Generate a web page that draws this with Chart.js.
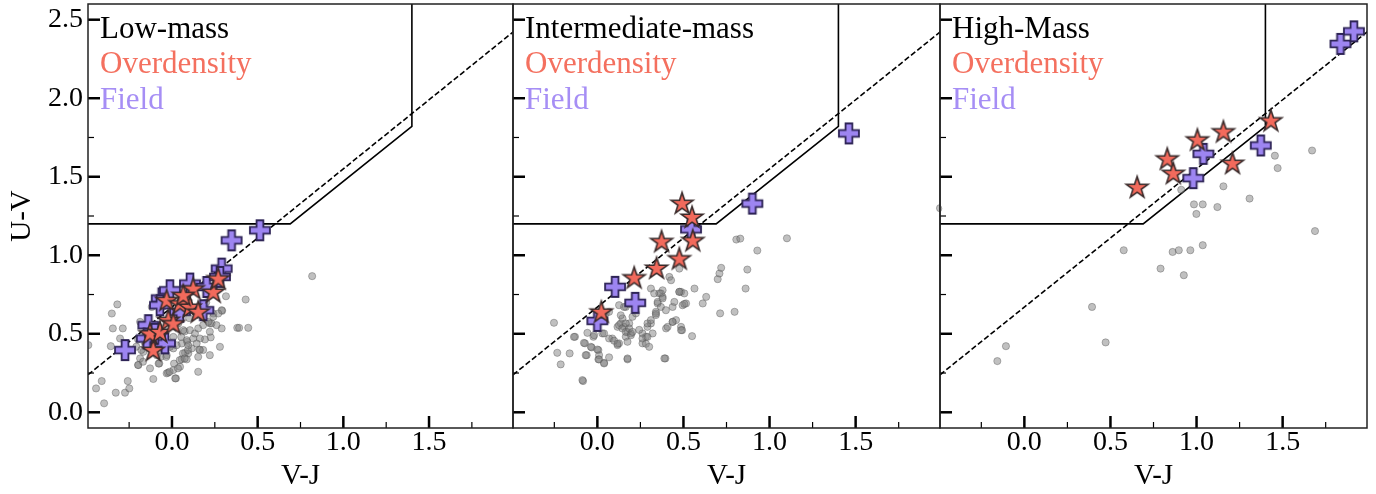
<!DOCTYPE html>
<html>
<head>
<meta charset="utf-8">
<script src="https://cdn.jsdelivr.net/npm/chart.js@4.4.0/dist/chart.umd.min.js"></script>
<style>
  html, body { margin: 0; padding: 0; background: #fff; }
  #wrap { position: relative; width: 1376px; height: 494px; overflow: hidden; }
  .pane { position: absolute; top: 0; height: 494px; }
</style>
</head>
<body>
<div id="wrap">
  <div class="pane" style="left:0px;width:520px"><canvas id="c1" width="520" height="494"></canvas></div>
  <div class="pane" style="left:506px;width:441px"><canvas id="c2" width="441" height="494"></canvas></div>
  <div class="pane" style="left:933px;width:443px"><canvas id="c3" width="443" height="494"></canvas></div>
</div>
<script>
// axis ranges and ticks
var vjMin = -0.49, vjMax = 1.99, uvMin = -0.1, uvMax = 2.6;
var vjTicks = [0, 0.5, 1.0, 1.5];
var vjMinor = [-0.25, 0.25, 0.75, 1.25, 1.75];
var uvTicks = [0, 0.5, 1.0, 1.5, 2.0, 2.5];
var uvMinor = [0.25, 0.75, 1.25, 1.75];

// UVJ quiescent box and dividing line
var boxVJ = [-0.6, 0.69, 1.4, 1.4];
var boxUV = [1.2, 1.2, 1.82, 2.8];
var divVJ = [-0.6, 2.1];
var divUV = [0.142, 2.518];

var panelNames = ['Low-mass', 'Intermediate-mass', 'High-Mass'];
var groupNames = ['Overdensity', 'Field'];

// low-mass
var lowOverVJ = [-0.109, -0.128, -0.07, -0.021, 0.008, -0.031, 0.047, 0.105, 0.124, 0.153, 0.241, 0.27, 0.066];
var lowOverUV = [0.396, 0.502, 0.512, 0.587, 0.566, 0.714, 0.693, 0.671, 0.788, 0.64, 0.767, 0.852, 0.746];
var lowFieldVJ = [-0.274, -0.138, -0.147, -0.041, -0.06, -0.012, -0.07, 0.047, 0.105, 0.202, 0.183, 0.29, 0.28, 0.348, 0.513, -0.1];
var lowFieldUV = [0.396, 0.555, 0.47, 0.439, 0.725, 0.777, 0.682, 0.64, 0.82, 0.798, 0.65, 0.915, 0.862, 1.095, 1.159, 0.5];
var lowAllVJ = [-0.319, -0.351, -0.345, -0.287, -0.357, -0.488, -0.41, -0.443, -0.396, -0.328, -0.274, -0.258, -0.249, -0.303, -0.196,
  -0.109, -0.128, -0.074, -0.031, 0.023, 0.008, 0.047, 0.057, 0.086, 0.095, 0.076, 0.115, 0.159, 0.153, 0.153, 0.221, 0.28, 0.29,
  0.226, 0.293, 0.315, 0.43, 0.381, 0.392, 0.445, 0.818, 0.241, 0.221, -0.031, 0.008, -0.167, -0.157, -0.186, -0.118, -0.186,
  -0.198, -0.208, -0.179, -0.198, -0.169, -0.078, -0.066, -0.033, -0.023, -0.014, 0.012, 0.019, 0.035, 0.045, 0.064, 0.074, 0.093,
  0.089, 0.074, 0.054, 0.231, 0.29, 0.192, 0.163, 0.124, 0.086, 0.057, 0.027, -0.012, -0.05, -0.089, 0.066, 0.105, 0.134, 0.153,
  0.182, 0.212, 0.241, 0.27, 0.037, 0.008, 0.144, 0.182, 0.221, 0.26, 0.095, 0.163, 0.0, 0.1, -0.05, 0.2, -0.08, -0.13];
var lowAllUV = [0.687, 0.629, 0.534, 0.534, 0.421, 0.428, 0.199, 0.152, 0.057, 0.125, 0.125, 0.199, 0.152, 0.47, 0.301,
  0.212, 0.28, 0.311, 0.248, 0.216, 0.269, 0.29, 0.337, 0.337, 0.375, 0.379, 0.407, 0.4, 0.353, 0.258, 0.364, 0.417, 0.534,
  0.477, 0.646, 0.739, 0.718, 0.538, 0.538, 0.538, 0.867, 0.629, 0.566, 0.364, 0.407, 0.385, 0.439, 0.576, 0.671, 0.343,
  0.464, 0.418, 0.397, 0.301, 0.322, 0.31, 0.353, 0.353, 0.252, 0.258, 0.31, 0.216, 0.28, 0.332, 0.375, 0.343, 0.397,
  0.448, 0.515, 0.48, 0.566, 0.65, 0.464, 0.47, 0.47, 0.459, 0.438, 0.427, 0.417, 0.397, 0.364, 0.523, 0.523, 0.502, 0.534,
  0.555, 0.576, 0.608, 0.629, 0.566, 0.48, 0.438, 0.397, 0.513, 0.555, 0.427, 0.397, 0.55, 0.6, 0.5, 0.7, 0.45, 0.42];

// intermediate-mass
var midOverVJ = [0.492, 0.55, 0.554, 0.373, 0.476, 0.344, 0.214, 0.023];
var midOverUV = [1.332, 1.244, 1.095, 1.089, 0.979, 0.919, 0.858, 0.64];
var midFieldVJ = [0.9, 0.544, 0.103, 0.22, 0.0, 1.461];
var midFieldUV = [1.329, 1.165, 0.799, 0.697, 0.582, 1.776];
var midAllVJ = [-0.252, -0.233, -0.213, -0.161, -0.13, -0.083, -0.072, -0.062, -0.058, -0.033, -0.023, 0.006, 0.006, 0.01, 0.039,
  0.029, 0.068, 0.049, 0.068, 0.087, 0.117, 0.126, 0.117, 0.136, 0.146, 0.165, 0.126, 0.156, 0.175, 0.195, 0.185, 0.165, 0.175,
  0.204, 0.224, 0.262, 0.282, 0.262, 0.291, 0.311, 0.321, 0.311, 0.33, 0.379, 0.36, 0.379, 0.35, 0.369, 0.34, 0.34, 0.399, 0.418,
  0.428, 0.437, 0.437, 0.457, 0.476, 0.486, 0.505, 0.495, 0.515, 0.486, 0.492, 0.55, 0.564, 0.632, 0.612, 0.699, 0.709, 0.719,
  0.713, 0.797, 0.807, 0.83, 0.861, 0.871, 0.929, 1.101, 0.395, 0.175, -0.136, -0.078, -0.038, -0.068, 0.0, 0.01, 0.039, -0.019,
  0.039, 0.068, 0.097, 0.117, 0.136, 0.155, 0.185, 0.126, 0.145, 0.165, 0.165, 0.185, 0.195, 0.204, 0.175, 0.243, 0.262, 0.291,
  0.282, 0.301, 0.291, 0.311, 0.34, 0.369, 0.35, 0.379, 0.398, 0.408, 0.437, 0.447, 0.476, 0.486, 0.505, 0.389, -0.087, 0.476, 1.99];
var midAllUV = [0.57, 0.379, 0.305, 0.375, 0.481, 0.199, 0.439, 0.364, 0.506, 0.413, 0.481, 0.396, 0.337, 0.364, 0.315,
  0.502, 0.35, 0.629, 0.64, 0.47, 0.428, 0.439, 0.544, 0.566, 0.598, 0.671, 0.682, 0.544, 0.512, 0.502, 0.566, 0.481, 0.449,
  0.608, 0.63, 0.502, 0.481, 0.439, 0.544, 0.566, 0.502, 0.788, 0.757, 0.777, 0.757, 0.735, 0.693, 0.671, 0.64, 0.619, 0.534, 0.862,
  0.841, 0.671, 0.576, 0.587, 0.767, 0.767, 0.757, 0.682, 0.693, 0.544, 0.523, 0.485, 0.788, 0.735, 0.693, 0.848, 0.884, 0.92,
  0.63, 0.64, 1.1, 1.106, 0.788, 0.909, 1.03, 1.108, 0.343, 0.337, 0.48, 0.442, 0.417, 0.364, 0.4, 0.337, 0.311, 0.491,
  0.502, 0.47, 0.456, 0.436, 0.618, 0.671, 0.69, 0.555, 0.534, 0.566, 0.512, 0.534, 0.491, 0.512, 0.343, 0.525, 0.47, 0.48,
  0.436, 0.417, 0.566, 0.587, 0.629, 0.757, 0.703, 0.725, 0.65, 0.544, 0.576, 0.703, 0.767, 0.523, 0.69, 0.343, 0.205, 0.915, 1.30];

// high-mass
var highOverVJ = [0.655, 0.83, 0.865, 1.005, 1.156, 1.209, 1.432];
var highOverUV = [1.434, 1.615, 1.523, 1.736, 1.788, 1.587, 1.858];
var highFieldVJ = [0.981, 1.04, 1.373, 1.836, 1.914];
var highFieldUV = [1.491, 1.646, 1.699, 2.346, 2.426];
var highAllVJ = [-0.5, -0.157, -0.107, 0.393, 0.472, 0.577, 0.791, 0.861, 0.897, 0.911, 0.926, 0.964, 0.985, 0.999, 1.036, 1.036,
  1.121, 1.156, 1.308, 1.455, 1.471, 1.671, 1.688];
var highAllUV = [1.297, 0.326, 0.421, 0.671, 0.445, 1.032, 0.915, 1.021, 1.032, 1.417, 0.873, 1.032, 1.324, 1.263, 1.324, 1.064,
  1.307, 1.439, 1.361, 1.634, 1.555, 1.667, 1.154];

var serif = '"Liberation Serif", "Times New Roman", serif';

function pts(xs, ys) {
  return xs.map(function (x, i) { return { x: x, y: ys[i] }; });
}

function makeStar() {
  var c = document.createElement('canvas');
  c.width = 28; c.height = 28;
  var g = c.getContext('2d');
  g.beginPath();
  for (var i = 0; i < 10; i++) {
    var r = i % 2 ? 4.4 : 11.4;
    var a = -Math.PI / 2 + i * Math.PI / 5;
    g.lineTo(14 + r * Math.cos(a), 14.8 + r * Math.sin(a));
  }
  g.closePath();
  g.fillStyle = '#f26a5c';
  g.fill();
  g.lineWidth = 1.6;
  g.strokeStyle = '#3a2b2b';
  g.stroke();
  return c;
}

function makePlus() {
  var c = document.createElement('canvas');
  c.width = 26; c.height = 26;
  var g = c.getContext('2d');
  var m = 13, h = 10, w = 3.4;
  g.beginPath();
  g.moveTo(m - w, m - h); g.lineTo(m + w, m - h); g.lineTo(m + w, m - w); g.lineTo(m + h, m - w);
  g.lineTo(m + h, m + w); g.lineTo(m + w, m + w); g.lineTo(m + w, m + h); g.lineTo(m - w, m + h);
  g.lineTo(m - w, m + w); g.lineTo(m - h, m + w); g.lineTo(m - h, m - w); g.lineTo(m - w, m - w);
  g.closePath();
  g.fillStyle = '#9d85f1';
  g.fill();
  g.lineWidth = 1.8;
  g.strokeStyle = '#2e2456';
  g.stroke();
  return c;
}

var starImg = makeStar();
var plusImg = makePlus();

// frame, inward ticks and the three-line label in each panel
var framePlugin = {
  id: 'frame',
  afterDatasetsDraw: function (chart, args, opts) {
    var a = chart.chartArea, g = chart.ctx;
    var xs = chart.scales.x, ys = chart.scales.y;
    g.save();
    g.strokeStyle = '#000';
    g.lineWidth = 2.5;
    vjTicks.forEach(function (v) {
      var p = xs.getPixelForValue(v);
      g.beginPath(); g.moveTo(p, a.bottom); g.lineTo(p, a.bottom - 12); g.stroke();
    });
    uvTicks.forEach(function (v) {
      var p = ys.getPixelForValue(v);
      g.beginPath(); g.moveTo(a.left, p); g.lineTo(a.left + 12, p); g.stroke();
    });
    g.lineWidth = 1.2;
    vjMinor.forEach(function (v) {
      var p = xs.getPixelForValue(v);
      g.beginPath(); g.moveTo(p, a.bottom); g.lineTo(p, a.bottom - 6); g.stroke();
    });
    uvMinor.forEach(function (v) {
      var p = ys.getPixelForValue(v);
      g.beginPath(); g.moveTo(a.left, p); g.lineTo(a.left + 6, p); g.stroke();
    });
    g.strokeStyle = '#222';
    g.lineWidth = 1.5;
    g.strokeRect(a.left, a.top, a.right - a.left, a.bottom - a.top);

    g.font = '31px ' + serif;
    g.textBaseline = 'alphabetic';
    g.textAlign = 'left';
    g.fillStyle = '#000';
    g.fillText(opts.name, a.left + 12, a.top + 34);
    g.fillStyle = '#f4705f';
    g.fillText(groupNames[0], a.left + 12, a.top + 69);
    g.fillStyle = '#a68ef5';
    g.fillText(groupNames[1], a.left + 12, a.top + 105);
    g.restore();
  }
};

function fmt(v) { return Number(v).toFixed(1); }

function makePanel(id, name, overVJ, overUV, fieldVJ, fieldUV, allVJ, allUV, first, pad) {
  return new Chart(document.getElementById(id), {
    type: 'scatter',
    data: {
      datasets: [
        { label: groupNames[0], data: pts(overVJ, overUV), pointStyle: starImg, pointRadius: 11, clip: 0 },
        { label: groupNames[1], data: pts(fieldVJ, fieldUV), pointStyle: plusImg, pointRadius: 10, clip: 0 },
        { label: 'All', data: pts(allVJ, allUV), pointStyle: 'circle', pointRadius: 3.6,
          backgroundColor: 'rgba(130,130,130,0.5)', borderColor: 'rgba(70,70,70,0.45)', borderWidth: 0.8, clip: 0 },
        { label: 'box', data: pts(boxVJ, boxUV), showLine: true, pointRadius: 0, borderColor: '#000',
          borderWidth: 1.6, fill: false, clip: 0 },
        { label: 'divide', data: pts(divVJ, divUV), showLine: true, pointRadius: 0, borderColor: '#000',
          borderWidth: 1.6, borderDash: [5.5, 2.6], fill: false, clip: 0 }
      ]
    },
    options: {
      responsive: false,
      animation: false,
      events: [],
      layout: { autoPadding: false, padding: pad },
      plugins: {
        legend: { display: false },
        tooltip: { enabled: false },
        frame: { name: name }
      },
      scales: {
        x: {
          type: 'linear', position: 'bottom', min: vjMin, max: vjMax,
          grid: { display: false, drawTicks: false },
          border: { display: false },
          afterBuildTicks: function (s) { s.ticks = vjTicks.map(function (v) { return { value: v }; }); },
          afterFit: function (s) { s.height = 66; s.paddingLeft = 0; s.paddingRight = 0; },
          ticks: { callback: fmt, color: '#000', padding: 1, autoSkip: false, maxRotation: 0,
            font: { family: serif, size: 28, lineHeight: 1 } },
          title: { display: true, text: 'V-J', color: '#000', padding: { top: 0, bottom: 3 },
            font: { family: serif, size: 29, lineHeight: 1 } }
        },
        y: {
          type: 'linear', position: 'left', min: uvMin, max: uvMax,
          grid: { display: false, drawTicks: false },
          border: { display: false },
          afterBuildTicks: function (s) { s.ticks = uvTicks.map(function (v) { return { value: v }; }); },
          afterFit: function (s) { s.width = first ? 88 : 0; s.paddingTop = 0; s.paddingBottom = 0; },
          ticks: { display: first, callback: fmt, color: '#000', padding: 5, autoSkip: false,
            font: { family: serif, size: 28, lineHeight: 1 } },
          title: { display: first, text: 'U-V', color: '#000', padding: { top: 8, bottom: 0 },
            font: { family: serif, size: 29, lineHeight: 1 } }
        }
      }
    },
    plugins: [framePlugin]
  });
}

makePanel('c1', panelNames[0], lowOverVJ, lowOverUV, lowFieldVJ, lowFieldUV, lowAllVJ, lowAllUV, true,
  { left: 0, right: 7, top: 4, bottom: 0 });
makePanel('c2', panelNames[1], midOverVJ, midOverUV, midFieldVJ, midFieldUV, midAllVJ, midAllUV, false,
  { left: 7, right: 7, top: 4, bottom: 0 });
makePanel('c3', panelNames[2], highOverVJ, highOverUV, highFieldVJ, highFieldUV, highAllVJ, highAllUV, false,
  { left: 7, right: 9, top: 4, bottom: 0 });
</script>
</body>
</html>
